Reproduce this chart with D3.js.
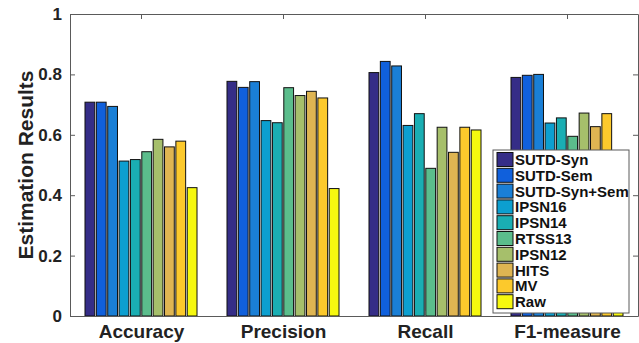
<!DOCTYPE html>
<html>
<head>
<meta charset="utf-8">
<script src="https://cdn.jsdelivr.net/npm/d3@7"></script>
<style>
  html, body { margin: 0; padding: 0; background: #fff; }
  svg { display: block; font-family: "Liberation Sans", Arial, Helvetica, sans-serif; font-weight: bold; }
</style>
</head>
<body>
<svg id="chart" width="639" height="343"></svg>
<script>
// grouped bars: 4 metrics x 10 methods

const categories = ["Accuracy", "Precision", "Recall", "F1-measure"];
const methods = ["SUTD-Syn", "SUTD-Sem", "SUTD-Syn+Sem", "IPSN16", "IPSN14",
                 "RTSS13", "IPSN12", "HITS", "MV", "Raw"];
const methodColors = ["#352d87", "#1060dc", "#1a7fd6", "#0c9fd0", "#1aaeb3",
                      "#5bbd8c", "#a6bf6b", "#dfb552", "#fcc92c", "#f6f80f"];

const accuracy  = [0.708, 0.708, 0.694, 0.513, 0.518, 0.544, 0.585, 0.560, 0.579, 0.425];
const precision = [0.777, 0.757, 0.776, 0.647, 0.640, 0.756, 0.730, 0.744, 0.722, 0.422];
const recall    = [0.806, 0.843, 0.828, 0.631, 0.670, 0.489, 0.625, 0.542, 0.625, 0.616];
const f1measure = [0.790, 0.797, 0.800, 0.639, 0.656, 0.595, 0.672, 0.627, 0.670, 0.500];

const yTicks = [0, 0.2, 0.4, 0.6, 0.8, 1];
const yTickLabels = ["0", "0.2", "0.4", "0.6", "0.8", "1"];

const metricValues = [accuracy, precision, recall, f1measure];

// ---- layout ----
const svg = d3.select("#chart");
const plotL = 70, plotR = 638, plotT = 14, plotB = 316;
const axisColor = "#5a5a5a";

const x = d3.scaleLinear().domain([0.5, 4.5]).range([plotL, plotR]);
const y = d3.scaleLinear().domain([0, 1]).range([plotB, plotT]);
const groupWidth = 0.8;
const inner = d3.scaleBand().domain(methods)
    .range([-groupWidth / 2, groupWidth / 2]).paddingInner(0.14).paddingOuter(0.07);

// ---- bars ----
const groups = svg.selectAll(".grp")
    .data(categories).enter().append("g")
    .attr("class", "grp");

groups.each(function (cat, ci) {
    d3.select(this).selectAll("rect")
        .data(metricValues[ci]).enter().append("rect")
        .attr("x", (d, i) => x(ci + 1 + inner(methods[i])))
        .attr("width", (d, i) => x(ci + 1 + inner(methods[i]) + inner.bandwidth()) - x(ci + 1 + inner(methods[i])))
        .attr("y", d => y(d))
        .attr("height", d => y(0) - y(d))
        .attr("fill", (d, i) => methodColors[i])
        .attr("stroke", "#111")
        .attr("stroke-width", 1);
});

// ---- axes (box, inward ticks) ----
const xPos = categories.map((c, i) => i + 1);

svg.append("g")
    .attr("transform", `translate(0,${plotB})`)
    .call(d3.axisBottom(x).tickValues(xPos).tickFormat((d, i) => categories[i])
        .tickSizeInner(-5).tickSizeOuter(0).tickPadding(9))
    .call(g => g.selectAll("text").attr("font-size", 19).attr("fill", "#222")
        .attr("font-family", "Liberation Sans, Arial, sans-serif").attr("font-weight", "bold"));

svg.append("g")
    .attr("transform", `translate(0,${plotT})`)
    .call(d3.axisTop(x).tickValues(xPos).tickFormat("").tickSizeInner(-5).tickSizeOuter(0));

svg.append("g")
    .attr("transform", `translate(${plotL},0)`)
    .call(d3.axisLeft(y).tickValues(yTicks).tickFormat((d, i) => yTickLabels[i])
        .tickSizeInner(-5).tickSizeOuter(0).tickPadding(8))
    .call(g => g.selectAll("text").attr("font-size", 17).attr("fill", "#222")
        .attr("font-family", "Liberation Sans, Arial, sans-serif").attr("font-weight", "bold"));

svg.append("g")
    .attr("transform", `translate(${plotR},0)`)
    .call(d3.axisRight(y).tickValues(yTicks).tickFormat("").tickSizeInner(-5).tickSizeOuter(0));

svg.selectAll(".domain").attr("stroke", axisColor);
svg.selectAll(".tick line").attr("stroke", axisColor);

// y label
svg.append("text")
    .attr("transform", `translate(33,${(plotT + plotB) / 2}) rotate(-90)`)
    .attr("text-anchor", "middle")
    .attr("font-size", 21)
    .attr("fill", "#222")
    .text("Estimation Results");

// ---- legend ----
const legX = 493, legY = 150, legW = 136, legH = 163;
const legend = svg.append("g");
legend.append("rect")
    .attr("x", legX).attr("y", legY).attr("width", legW).attr("height", legH)
    .attr("fill", "#fff").attr("stroke", axisColor).attr("stroke-width", 1);

const rowH = 15.8;
const rows = legend.selectAll(".leg")
    .data(methods).enter().append("g")
    .attr("transform", (d, i) => `translate(${legX + 4},${legY + 2.5 + i * rowH})`);

rows.append("rect")
    .attr("width", 16).attr("height", 14)
    .attr("fill", (d, i) => methodColors[i])
    .attr("stroke", "#111").attr("stroke-width", 1);

rows.append("text")
    .attr("x", 18).attr("y", 12.5)
    .attr("font-size", 15)
    .attr("fill", "#111")
    .text(d => d);
</script>
</body>
</html>
